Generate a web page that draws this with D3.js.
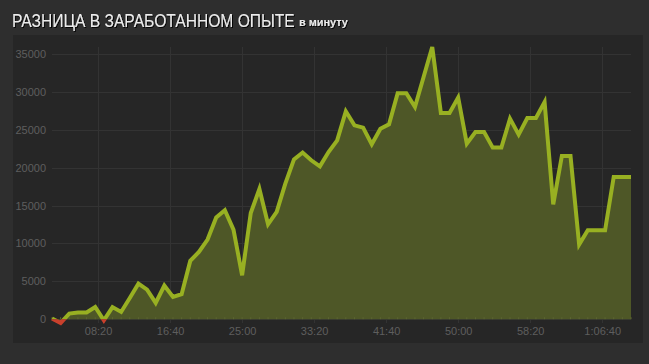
<!DOCTYPE html>
<html>
<head>
<meta charset="utf-8">
<script src="https://cdn.jsdelivr.net/npm/d3@7"></script>
<style>
  html, body { margin: 0; padding: 0; background: #2e2e2e; }
  svg { display: block; }
</style>
</head>
<body>
<div id="chart"></div>
<script>
// minutes since start of session
var minutes = [3, 4, 5, 6, 7, 8, 9, 10, 11, 12, 13, 14, 15, 16, 17, 18, 19, 20, 21, 22,
    23, 24, 25, 26, 27, 28, 29, 30, 31, 32, 33, 34, 35, 36, 37, 38, 39, 40, 41, 42,
    43, 44, 45, 46, 47, 48, 49, 50, 51, 52, 53, 54, 55, 56, 57, 58, 59, 60, 61, 62,
    63, 64, 65, 66, 67, 68, 69, 70];

// xp difference per minute
var xpDiff = [100, -500, 750, 880, 900, 1620, -150, 1600, 960, 2800,
    4700, 3900, 2150, 4450, 2950, 3300, 7700, 8880, 10510, 13420,
    14380, 11830, 5800, 14020, 17190, 12530, 14160, 17900, 21100, 22000,
    20980, 20180, 22070, 23610, 27440, 25590, 25290, 23090, 25150, 25730,
    29820, 29820, 28010, 31970, 35930, 27220, 27220, 29250, 23180, 24710,
    24710, 22650, 22650, 26480, 24370, 26560, 26560, 28670, 15170, 21540,
    21540, 9850, 11740, 11740, 11740, 18770, 18770, 18770];

var yTicks = [0, 5000, 10000, 15000, 20000, 25000, 30000, 35000];
var xTicks = [500, 1000, 1500, 2000, 2500, 3000, 3500, 4000]; // seconds

var W = 649, H = 364;
var plotL = 52, plotR = 631, plotT = 47, plotB = 323;

var data = minutes.map(function(m, i) { return { t: m * 60, v: xpDiff[i] }; });

var svg = d3.select("#chart").append("svg")
    .attr("width", W)
    .attr("height", H);

var defs = svg.append("defs");
defs.append("filter").attr("id", "shadow")
    .attr("x", "-5%").attr("y", "-20%").attr("width", "110%").attr("height", "150%")
    .append("feDropShadow")
    .attr("dx", 1).attr("dy", 1).attr("stdDeviation", 0.6)
    .attr("flood-color", "#000").attr("flood-opacity", 0.9);

svg.append("rect").attr("width", W).attr("height", H).attr("fill", "#2e2e2e");

// panel
svg.append("rect")
    .attr("x", 13).attr("y", 35)
    .attr("width", 630).attr("height", 308)
    .attr("fill", "#262626");

// title: squeeze text horizontally to the width seen in the picture
function fitText(g, str, x0, y0, size, weight, width) {
    var t = g.append("text")
        .attr("font-size", size)
        .attr("font-weight", weight)
        .text(str);
    var k = width / t.node().getComputedTextLength();
    t.attr("transform", "translate(" + x0 + "," + y0 + ") scale(" + k + ",1)");
}
var titleG = svg.append("g").attr("filter", "url(#shadow)").attr("fill", "#ececec")
    .attr("font-family", "Liberation Sans, Arial, sans-serif");
fitText(titleG, "РАЗНИЦА В ЗАРАБОТАННОМ ОПЫТЕ", 12, 27, 19, "normal", 283);
fitText(titleG, "в минуту", 299, 26, 10.5, "bold", 49);

var x = d3.scaleLinear()
    .domain(d3.extent(data, function(d) { return d.t; }))
    .range([plotL, plotR]);

var y = d3.scaleLinear()
    .domain(d3.extent(data, function(d) { return d.v; }))
    .range([plotB, plotT]);

function fmtTime(s) {
    var h = Math.floor(s / 3600);
    var m = Math.floor((s % 3600) / 60);
    var sec = s % 60;
    var pad = function(n) { return (n < 10 ? "0" : "") + n; };
    return h > 0 ? h + ":" + pad(m) + ":" + pad(sec) : pad(m) + ":" + pad(sec);
}

// grid
svg.append("g").selectAll("line").data(yTicks).enter().append("line")
    .attr("x1", plotL).attr("x2", plotR)
    .attr("y1", function(d) { return Math.round(y(d)) + 0.5; })
    .attr("y2", function(d) { return Math.round(y(d)) + 0.5; })
    .attr("stroke", "#333");

svg.append("g").selectAll("line").data(xTicks).enter().append("line")
    .attr("y1", plotT).attr("y2", plotB)
    .attr("x1", function(d) { return Math.round(x(d)) + 0.5; })
    .attr("x2", function(d) { return Math.round(x(d)) + 0.5; })
    .attr("stroke", "#333");

// axes (labels only)
var yAxis = svg.append("g")
    .attr("transform", "translate(" + (plotL - 6) + ",0)")
    .call(d3.axisLeft(y).tickValues(yTicks).tickSize(0).tickPadding(0));
var xAxis = svg.append("g")
    .attr("transform", "translate(0," + (plotB + 4) + ")")
    .call(d3.axisBottom(x).tickValues(xTicks).tickFormat(fmtTime).tickSize(0).tickPadding(0));
[yAxis, xAxis].forEach(function(a) {
    a.select(".domain").remove();
    a.selectAll("text")
        .attr("fill", "#5e5e5e")
        .attr("font-family", "Liberation Sans, Arial, sans-serif")
        .attr("font-size", 11);
});
yAxis.selectAll("text").text(function(d) { return d; });
xAxis.selectAll("text").attr("dy", "0.71em");

// area
var area = d3.area()
    .x(function(d) { return x(d.t); })
    .y0(y(0))
    .y1(function(d) { return y(d.v); });

svg.append("path")
    .datum(data)
    .attr("d", area)
    .attr("fill", "#4e5727");

// small ticks along the zero line
svg.append("g").selectAll("line").data(data).enter().append("line")
    .attr("x1", function(d) { return x(d.t); })
    .attr("x2", function(d) { return x(d.t); })
    .attr("y1", y(0) - 2).attr("y2", y(0))
    .attr("stroke", "#5c6532");

// line, green above zero and red below
defs.append("clipPath").attr("id", "above")
    .append("rect").attr("x", 0).attr("y", 0).attr("width", W).attr("height", y(0));
defs.append("clipPath").attr("id", "below")
    .append("rect").attr("x", 0).attr("y", y(0)).attr("width", W).attr("height", H);

var line = d3.line()
    .x(function(d) { return x(d.t); })
    .y(function(d) { return y(d.v); });

svg.append("path")
    .datum(data)
    .attr("d", line)
    .attr("clip-path", "url(#above)")
    .attr("fill", "none")
    .attr("stroke", "#98b022")
    .attr("stroke-width", 4)
    .attr("stroke-linejoin", "miter");

svg.append("path")
    .datum(data)
    .attr("d", line)
    .attr("clip-path", "url(#below)")
    .attr("fill", "none")
    .attr("stroke", "#c9402c")
    .attr("stroke-width", 4)
    .attr("stroke-linejoin", "miter");
</script>
</body>
</html>
